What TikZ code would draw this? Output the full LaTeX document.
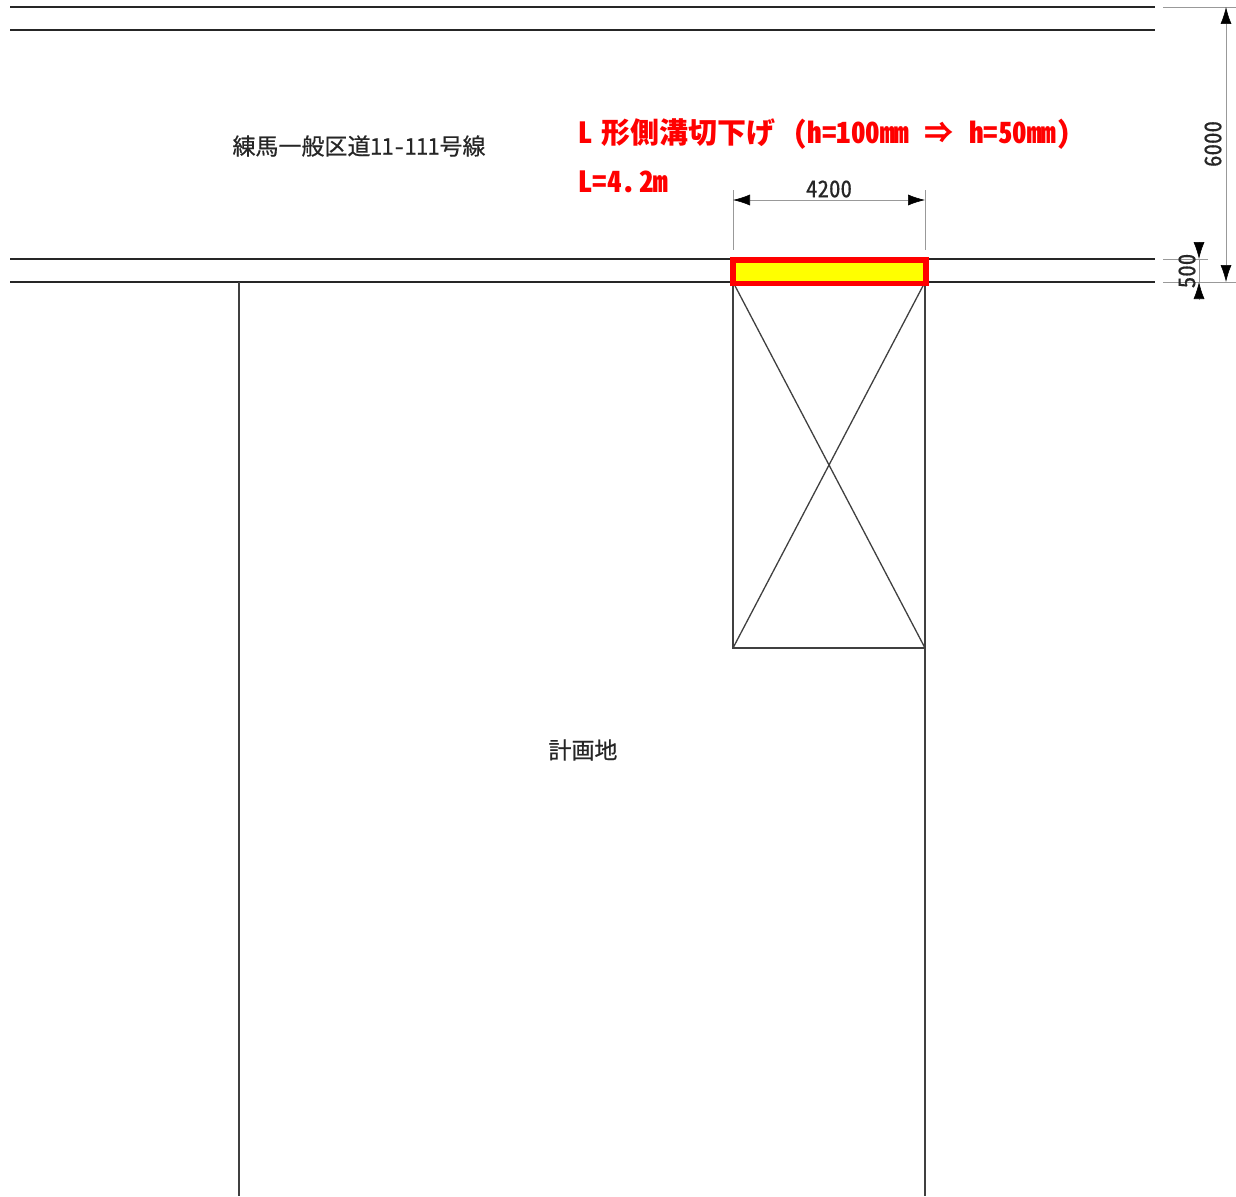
\documentclass[tikz,border=0pt]{standalone}
\usepackage{fontspec}
\usetikzlibrary{arrows.meta}
\newfontfamily\cjk[RawFeature=+hwid]{Noto Sans CJK JP}
\newfontfamily\cjkheavy[RawFeature=+hwid,FakeBold=0.5]{Noto Sans CJK JP}
\definecolor{gutteryellow}{RGB}{255,255,0}
\definecolor{gutterred}{RGB}{255,0,0}
\tikzset{
    roadline/.style={line width=1.2pt,black!85},
    siteline/.style={line width=1.3pt,black!75},
    dimline/.style={line width=0.6pt,black!40},
    dimtip/.style={{Latex[length=17pt,width=11pt,black]}-{Latex[length=17pt,width=11pt,black]}},
    endtip/.style={-{Latex[length=17pt,width=11pt,black]}},
    drawtext/.style={font=\cjkheavy\fontsize{23}{23}\selectfont,text=black!85,inner sep=0pt},
    redtext/.style={font=\cjk\bfseries\fontsize{29}{29}\selectfont,text=gutterred,inner sep=0pt,anchor=west}
}
\begin{document}
\begin{tikzpicture}[x=1pt,y=-1pt]
    \useasboundingbox (0,0) rectangle (1236,1196);
    %% Road
    \coordinate (roadA1) at (10,7);
    \coordinate (roadA2) at (1155,7);
    \coordinate (roadB1) at (10,30);
    \coordinate (roadB2) at (1155,30);
    \coordinate (roadC1) at (10,259);
    \coordinate (roadC2) at (1155,259);
    \coordinate (roadD1) at (10,282);
    \coordinate (roadD2) at (1155,282);
    \draw[roadline] (roadA1) -- (roadA2);
    \draw[roadline] (roadB1) -- (roadB2);
    \draw[roadline] (roadC1) -- (roadC2);
    \draw[roadline] (roadD1) -- (roadD2);
    %% Site
    \coordinate (siteL1) at (239,282);
    \coordinate (siteL2) at (239,1196);
    \coordinate (siteR1) at (925,282);
    \coordinate (siteR2) at (925,1196);
    \coordinate (gateL1) at (733,282);
    \coordinate (gateL2) at (733,648);
    \coordinate (gateR2) at (925,648);
    \draw[siteline] (siteL1) -- (siteL2);
    \draw[siteline] (siteR1) -- (siteR2);
    \draw[siteline] (gateL1) -- (gateL2) -- (gateR2);
    \draw[siteline] (gateL1) -- (gateR2);
    \draw[siteline] (siteR1) -- (gateL2);
    %% Lowered gutter
    \node[draw=gutterred,fill=gutteryellow,line width=5.5pt,minimum width=193pt,minimum height=23.5pt,inner sep=0pt] (gutter) at (829.5,271.5) {};
    %% Dimension 4200
    \coordinate (widthL1) at (733,190);
    \coordinate (widthL2) at (733,250);
    \coordinate (widthR1) at (925,190);
    \coordinate (widthR2) at (925,250);
    \coordinate (widthA) at (733,200);
    \coordinate (widthB) at (925,200);
    \draw[dimline] (widthL1) -- (widthL2);
    \draw[dimline] (widthR1) -- (widthR2);
    \draw[dimline,dimtip] (widthA) -- (widthB);
    \node[drawtext] (widthlabel) at (829,189) {4200};
    %% Dimension 6000
    \coordinate (extA1) at (1163,7);
    \coordinate (extA2) at (1236,7);
    \coordinate (extB1) at (1163,282);
    \coordinate (extB2) at (1236,282);
    \coordinate (extC1) at (1163,259);
    \coordinate (extC2) at (1208,259);
    \coordinate (roadwA) at (1226,7);
    \coordinate (roadwB) at (1226,282);
    \draw[dimline] (extA1) -- (extA2);
    \draw[dimline] (extB1) -- (extB2);
    \draw[dimline] (extC1) -- (extC2);
    \draw[dimline,dimtip] (roadwA) -- (roadwB);
    \node[drawtext,rotate=90] (roadwlabel) at (1213,144) {6000};
    %% Dimension 500
    \coordinate (curbA) at (1199,242);
    \coordinate (curbB) at (1199,259);
    \coordinate (curbC) at (1199,282);
    \coordinate (curbD) at (1199,300);
    \draw[dimline] (curbB) -- (curbC);
    \draw[dimline,endtip] (curbA) -- (curbB);
    \draw[dimline,endtip] (curbD) -- (curbC);
    \node[drawtext,rotate=90] (curblabel) at (1187,271) {500};
    %% Labels
    \node[drawtext] (roadname) at (359,146) {練馬一般区道11-111号線};
    \node[drawtext] (sitename) at (583,750) {計画地};
    \node[redtext] (worknote) at (578,134) {L\hspace{9pt}形側溝切下げ\hspace{17.5pt}（h=100mm\hspace{1pt} ⇒ \hspace{1pt}h=50mm）};
    \node[redtext] (lengthnote) at (578,182) {L=4.\hspace{3pt}2m};
\end{tikzpicture}
\end{document}
